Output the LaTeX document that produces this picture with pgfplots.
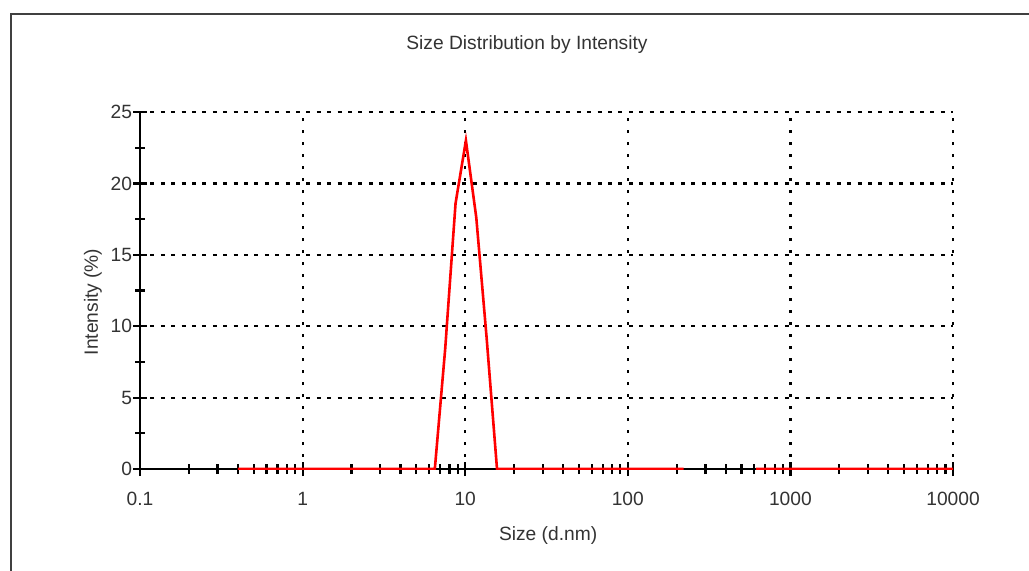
\documentclass[border=0pt]{standalone}
\usepackage{fontspec}
\setmainfont{Liberation Sans}
\usepackage{pgfplots}
\pgfplotsset{compat=1.18}
\newcommand\chartfont{\fontsize{9.6bp}{11.5bp}\selectfont}
\begin{document}
\begin{tikzpicture}[x=1bp,y=1bp]
\useasboundingbox (0,0) rectangle (514.5,-285);
\draw[line width=1.3bp, black!75] (5.5,-290) -- (5.5,-7) -- (520,-7);
\begin{axis}[
  at={(70bp,-234.5bp)}, anchor=south west,
  scale only axis, width=406.5bp, height=178.5bp,
  xmode=log, xmin=0.1, xmax=10000, ymin=0, ymax=25,
  axis x line*=bottom, axis y line*=left,
  axis line style={-, line width=1.2bp, black},
  xtick={0.1,1,10,100,1000,10000},
  xticklabels={0.1,1,10,100,1000,10000},
  minor xtick={0.2,0.3,0.4,0.5,0.6,0.7,0.8,0.9,2,3,4,5,6,7,8,9,20,30,40,50,60,70,80,90,200,300,400,500,600,700,800,900,2000,3000,4000,5000,6000,7000,8000,9000},
  ytick={0,5,10,15,20,25},
  minor ytick={2.5,7.5,12.5,17.5,22.5},
  tick align=center, major tick length=7bp, minor tick length=5bp,
  every tick/.style={black, line width=1.1bp},
  grid=major,
  x grid style={black, line width=1.1bp, dash pattern=on 1.3bp off 4.7bp},
  y grid style={black, line width=1.1bp, dash pattern=on 2bp off 3.2bp},
  /pgf/number format/assume math mode=true,
  tick label style={font=\chartfont, text=black!80},
  xticklabel style={anchor=base, yshift=-14.5bp},
  yticklabel style={xshift=3bp},
  every axis title shift=0pt,
  title={Size Distribution by Intensity},
  title style={at={(axis description cs:0.476,1.1877)}, anchor=center, font=\chartfont, text=black!80},
  xlabel={Size (d.nm)},
  xlabel style={at={(axis description cs:0.502,-0.1849)}, anchor=center, font=\chartfont, text=black!80},
  ylabel={Intensity (\%)},
  ylabel style={at={(axis description cs:-0.0578,0.468)}, anchor=center, font=\chartfont, text=black!80},
  unbounded coords=jump,
]
\addplot[red, line width=1.3bp, no markers] table {
x y
0.4 0
0.4632 0
0.5365 0
0.6213 0
0.7195 0
0.8332 0
0.9649 0
1.117 0
1.294 0
1.499 0
1.736 0
2.01 0
2.328 0
2.696 0
3.122 0
3.615 0
4.187 0
4.849 0
5.615 0
6.503 0
7.531 8.4
8.721 18.6
10.1 23.0
11.7 17.6
13.54 9.2
15.69 0
18.17 0
21.04 0
24.36 0
28.21 0
32.67 0
37.84 0
43.82 0
50.75 0
58.77 0
68.06 0
78.82 0
91.28 0
105.7 0
122.4 0
141.8 0
164.2 0
190.1 0
220.2 0
255.0 nan
295.3 nan
342.0 nan
396.1 nan
458.7 nan
531.2 nan
615.1 0
712.4 0
825.0 0
955.4 0
1106 0
1281 0
1484 0
1718 0
1990 0
2305 0
2669 0
3091 0
3580 0
4145 0
4801 0
5560 0
6439 0
7456 0
8635 0
10000 0
};
\end{axis}
\end{tikzpicture}
\end{document}
